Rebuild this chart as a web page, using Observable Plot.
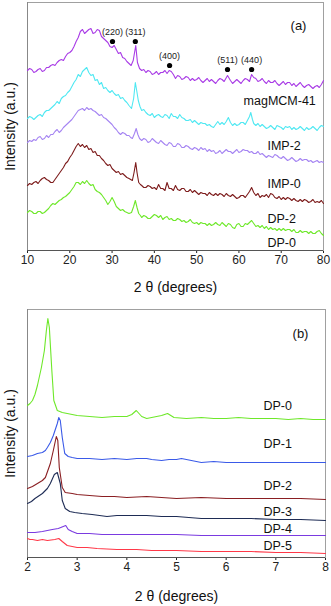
<!DOCTYPE html>
<html><head><meta charset="utf-8">
<script src="https://cdn.jsdelivr.net/npm/d3@7"></script>
<script src="https://cdn.jsdelivr.net/npm/@observablehq/plot@0.6"></script>
<style>
html,body{margin:0;padding:0;background:#fff;}
#chart{width:331px;}
#chart svg{display:block;overflow:visible;}
</style></head><body><div id="chart"></div>
<script>
// ---------- Panel (a): wide-angle XRD, [2θ, intensity a.u.] ----------
const seriesA = ["magMCM-41", "IMP-2", "IMP-0", "DP-2", "DP-0"];
const colorsA = ["#a93ce6", "#4fe8f2", "#a584f2", "#7d1c1c", "#6ee82a"];
const magMCM41 = [[10,180],[10.5,182],[11,181],[11.5,178],[12,179],[12.5,181],[13,182],[13.5,179],[14,180],[14.5,183],[15,183],[15.5,185],[16,186],[16.5,185],[17,188],[17.5,190],[18,191],[18.5,190],[19,194],[19.5,197],[20,198],[20.5,200],[21,204],[21.5,209],[22,213],[22.5,219],[23,221],[23.5,217],[24,219],[24.5,221],[25,222],[25.5,217],[26,218],[26.5,221],[27,220],[27.5,214],[28,212],[28.5,210],[29,208],[29.5,204],[30,203],[30.5,205],[31,201],[31.5,197],[32,198],[32.5,193],[33,192],[33.5,189],[34,187],[34.5,185],[35,190],[35.6,205],[36,188],[36.5,182],[37,180],[37.5,181],[38,178],[38.5,180],[39,179],[39.5,176],[40,177],[40.5,179],[41,176],[41.5,178],[42,178],[42.5,180],[43,177],[43.5,180],[44,179],[44.5,176],[45,172],[45.5,175],[46,174],[46.5,171],[47,172],[47.5,174],[48,173],[48.5,170],[49,172],[49.5,170],[50,171],[50.5,173],[51,170],[51.5,168],[52,170],[52.5,172],[53,169],[53.5,171],[54,169],[54.5,167],[55,170],[55.5,172],[56,171],[56.5,169],[57.3,175],[58,170],[58.5,167],[59,169],[59.5,171],[60,169],[60.5,167],[61,170],[61.5,172],[62,171],[62.5,169],[63,176],[63.5,173],[64,172],[64.5,169],[65,170],[65.5,172],[66,169],[66.5,167],[67,170],[67.5,168],[68,168],[68.5,170],[69,167],[69.5,165],[70,167],[70.5,169],[71,166],[71.5,168],[72,168],[72.5,165],[73,167],[73.5,164],[74,166],[74.5,168],[75,165],[75.5,163],[76,165],[76.5,166],[77,164],[77.5,162],[78,164],[78.5,165],[79,163],[79.5,166],[80,170]];
const imp2 = [[10,132],[10.5,134],[11,133],[11.5,131],[12,133],[12.5,135],[13,136],[13.5,134],[14,138],[14.5,140],[15,140],[15.5,142],[16,144],[16.5,146],[17,149],[17.5,147],[18,152],[18.5,154],[19,155],[19.5,158],[20,160],[20.5,164],[21,168],[21.5,171],[22,176],[22.5,174],[23,179],[23.5,181],[24,183],[24.5,178],[25,175],[25.5,176],[26,170],[26.5,171],[27,166],[27.5,168],[28,162],[28.5,163],[29,160],[29.5,158],[30,160],[30.5,157],[31,155],[31.5,156],[32,152],[32.5,153],[33,150],[33.5,148],[34,145],[34.6,142],[35.1,152],[35.5,168],[35.9,158],[36.2,150],[36.6,144],[37,140],[37.5,141],[38,138],[38.5,136],[39,135],[39.5,137],[40,133],[40.5,135],[41,136],[41.5,134],[42,133],[42.5,136],[43,135],[43.5,132],[44,137],[44.5,134],[45,134],[45.5,132],[46,136],[46.5,133],[47,132],[47.5,130],[48,130],[48.5,131],[49,128],[49.5,130],[50,128],[50.5,126],[51,128],[51.5,127],[52,127],[52.5,125],[53,126],[53.5,124],[54,123],[54.5,126],[55,129],[55.5,126],[56,128],[56.5,126],[57,129],[57.5,133],[58,128],[58.5,125],[59,127],[59.5,125],[60,126],[60.5,128],[61,128],[61.5,126],[62,130],[62.5,134],[62.8,138],[63.2,131],[63.5,127],[64,125],[64.5,127],[65,124],[65.5,126],[66,124],[66.5,122],[67,123],[67.5,125],[68,123],[68.5,121],[69,125],[69.5,124],[70,123],[70.5,121],[71,124],[71.5,123],[72,124],[72.5,121],[73,123],[73.5,121],[74,122],[74.5,124],[75,122],[75.5,120],[76,123],[76.5,121],[77,122],[77.5,124],[78,122],[78.5,120],[79,123],[79.5,125],[80,124]];
const imp0 = [[10,108],[10.5,110],[11,109],[11.5,111],[12,110],[12.5,113],[13,114],[13.5,111],[14,112],[14.5,115],[15,113],[15.5,116],[16,116],[16.5,119],[17,121],[17.5,118],[18,120],[18.5,123],[19,125],[19.5,127],[20,129],[20.5,131],[21,134],[21.5,137],[22,140],[22.5,141],[23,142],[23.5,140],[24,143],[24.5,141],[25,142],[25.5,140],[26,139],[26.5,137],[27,135],[27.5,136],[28,133],[28.5,132],[29,130],[29.5,128],[30,126],[30.5,123],[31,121],[31.5,118],[32,116],[32.5,118],[33,117],[33.5,115],[34,115],[34.4,113],[34.8,112],[35.3,117],[35.7,122],[36.1,116],[36.5,112],[37,110],[37.5,112],[38,111],[38.5,108],[39,109],[39.5,112],[40,110],[40.5,108],[41,107],[41.5,110],[42,108],[42.5,106],[43,105],[43.5,108],[44,107],[44.5,104],[45,104],[45.5,107],[46,106],[46.5,103],[47,103],[47.5,105],[48,104],[48.5,102],[49,101],[49.5,103],[50,102],[50.5,100],[51,103],[51.5,101],[52,102],[52.5,99],[53,101],[53.5,99],[54,100],[54.5,97],[55,98],[55.5,100],[56,97],[56.5,99],[57,101],[57.5,99],[58,99],[58.5,97],[59,99],[59.5,101],[60,98],[60.5,99],[61,101],[61.5,100],[62,100],[62.5,98],[63,99],[63.5,97],[64,97],[64.5,99],[65,96],[65.5,97],[66,95],[66.5,93],[67,95],[67.5,94],[68,93],[68.5,96],[69,95],[69.5,93],[70,92],[70.5,94],[71,92],[71.5,90],[72,91],[72.5,93],[73,91],[73.5,89],[74,90],[74.5,92],[75,90],[75.5,91],[76,91],[76.5,89],[77,90],[77.5,88],[78,89],[78.5,90],[79,88],[79.5,89],[80,88]];
const dp2A = [[10,65],[10.5,67],[11,66],[11.5,68],[12,69],[12.5,67],[13,70],[13.5,72],[14,73],[14.5,71],[15,70],[15.5,68],[16,68],[16.5,71],[17,74],[17.5,77],[18,80],[18.5,83],[19,87],[19.5,89],[20,93],[20.5,96],[21,100],[21.5,104],[22,107],[22.5,104],[23,106],[23.5,103],[24,105],[24.5,101],[25,102],[25.5,98],[26,99],[26.5,95],[27,95],[27.5,92],[28,90],[28.5,87],[29,85],[29.5,86],[30,82],[30.5,80],[31,78],[31.5,79],[32,76],[32.5,77],[33,75],[33.5,73],[34,72],[34.8,70],[35.2,78],[35.6,88],[35.9,78],[36.3,68],[36.7,66],[37,65],[37.5,63],[38,63],[38.5,65],[39,64],[39.5,62],[40,63],[40.5,61],[41,66],[41.5,62],[42,62],[42.5,60],[43,68],[43.5,62],[44,62],[44.5,60],[45,65],[45.5,61],[46,60],[46.5,62],[47,62],[47.5,59],[48,59],[48.5,61],[49,58],[49.5,60],[50,58],[50.5,56],[51,58],[51.5,57],[52,57],[52.5,55],[53,58],[53.5,56],[54,55],[54.5,57],[55,55],[55.5,57],[56,56],[56.5,54],[57,57],[57.5,55],[58,54],[58.5,56],[59,54],[59.5,52],[60,53],[60.5,55],[61,55],[61.5,53],[62,56],[62.5,59],[63,63],[63.5,58],[64,55],[64.5,57],[65,53],[65.5,55],[66,54],[66.5,56],[67,53],[67.5,57],[68,56],[68.5,53],[69,52],[69.5,54],[70,51],[70.5,53],[71,51],[71.5,53],[72,52],[72.5,50],[73,52],[73.5,50],[74,49],[74.5,51],[75,49],[75.5,51],[76,50],[76.5,48],[77,49],[77.5,51],[78,48],[78.5,49],[79,48],[79.5,50],[80,47]];
const dp0A = [[10,38],[10.5,40],[11,39],[11.5,37],[12,37],[12.5,39],[13,39],[13.5,37],[14,38],[14.5,40],[15,42],[15.5,45],[16,47],[16.5,46],[17,48],[17.5,50],[18,51],[18.5,53],[19,54],[19.5,56],[20,58],[20.5,61],[21,64],[21.5,68],[22,68],[22.5,66],[23,69],[23.5,67],[24,70],[24.5,67],[25,65],[25.5,66],[26,61],[26.5,59],[27,58],[27.5,56],[28,53],[28.5,50],[29,46],[29.5,49],[30,53],[30.5,49],[31,44],[31.5,42],[32,40],[32.5,41],[33,39],[33.5,38],[34,37],[34.6,38],[35.1,44],[35.5,50],[35.9,43],[36.3,37],[36.7,35],[37,33],[37.5,35],[38,34],[38.5,32],[39,32],[39.5,34],[40,36],[40.5,35],[41,33],[41.5,35],[42,31],[42.5,33],[43,34],[43.5,31],[44,32],[44.5,30],[45,30],[45.5,32],[46,31],[46.5,29],[47,30],[47.5,28],[48,29],[48.5,31],[49,28],[49.5,27],[50,28],[50.5,26],[51,28],[51.5,27],[52,27],[52.5,25],[53,27],[53.5,25],[54,26],[54.5,28],[55,26],[55.5,25],[56,28],[56.5,26],[57,24],[57.5,27],[58,26],[58.5,23],[59,22],[59.5,26],[60,27],[60.5,24],[61,24],[61.5,27],[62,26],[62.5,28],[63,30],[63.5,27],[64,24],[64.5,25],[65,23],[65.5,25],[66,22],[66.5,24],[67,21],[67.5,23],[68,21],[68.5,22],[69,20],[69.5,22],[70,20],[70.5,22],[71,20],[71.5,21],[72,21],[72.5,19],[73,21],[73.5,18],[74,18],[74.5,20],[75,18],[75.5,19],[76,19],[76.5,17],[77,19],[77.5,17],[78,17],[78.5,19],[79,20],[79.5,17],[80,15]];
const peakHKL = ["(220)", "(311)", "(400)", "(511)", "(440)"];
const peak2Theta = [30.1, 35.5, 43.6, 57.3, 63.0];
const peakMarkI = [209, 209, 185, 181, 181];
const xTicksA = [10, 20, 30, 40, 50, 60, 70, 80];
const labelA2Theta = [61.1, 66.75, 66.75, 66.75, 66.75];
const labelAI = [150, 105, 67, 32, 8];

// ---------- Panel (b): low-angle XRD, [2θ, intensity a.u.] ----------
const seriesB = ["DP-0", "DP-1", "DP-2", "DP-3", "DP-4", "DP-5"];
const colorsB = ["#6ee82a", "#3a5ae8", "#8a1e22", "#1e2c55", "#7a3ae0", "#ff3848"];
const dp0B = [[2.0,152],[2.05,154],[2.1,157],[2.15,163],[2.2,172],[2.28,190],[2.34,207],[2.38,227],[2.41,239],[2.44,230],[2.49,187],[2.53,157],[2.6,147],[2.7,145],[2.8,144],[2.9,143],[3.0,142],[3.25,141],[3.5,140],[3.75,141],[4.0,141],[4.1,143],[4.19,147],[4.3,141],[4.4,139],[4.5,140],[4.7,142],[4.82,144],[4.95,140],[5.2,139],[5.5,140],[5.75,139],[6,139],[6.25,140],[6.5,139],[6.75,139],[7,139],[7.25,138],[7.5,139],[7.75,138],[8,138]];
const dp1B = [[2.0,101],[2.1,102],[2.2,104],[2.3,105],[2.36,107],[2.4,110],[2.46,115],[2.52,122],[2.6,134],[2.63,140],[2.66,137],[2.7,120],[2.75,104],[2.82,101],[2.9,100],[3.0,99],[3.25,99],[3.5,98],[3.75,99],[4.0,98],[4.2,99],[4.4,99],[4.5,98],[4.7,97],[4.85,98],[5.0,98],[5.1,99],[5.3,97],[5.5,95],[5.75,96],[6,95],[6.5,95],[7,95],[7.5,95],[8,95]];
const dp2B = [[2.0,69],[2.1,71],[2.2,74],[2.3,77],[2.36,80],[2.46,94],[2.52,107],[2.58,121],[2.61,117],[2.64,90],[2.7,70],[2.76,65],[2.9,64],[3.0,63],[3.25,62],[3.5,61],[3.75,61],[4.0,60],[4.4,61],[4.7,60],[5,59],[5.5,60],[6,59],[6.5,59],[7,59],[7.5,59],[8,58]];
const dp3B = [[2.0,54],[2.08,56],[2.15,59],[2.3,64],[2.4,69],[2.46,74],[2.54,83],[2.6,85],[2.66,74],[2.7,57],[2.76,49],[2.85,46],[2.95,45],[3.1,44],[3.3,43],[3.6,41],[3.8,42],[4,42],[4.4,42],[4.7,41],[5,41],[5.25,40],[5.5,39],[6,39],[6.5,39],[7,38],[7.5,38],[8,37]];
const dp4B = [[2.0,25],[2.15,25],[2.3,26],[2.5,28],[2.62,29],[2.72,31],[2.77,32],[2.82,28],[2.9,26],[3.0,24],[3.25,24],[3.5,23],[4,23],[4.5,23],[5,23],[5.5,22],[6,22],[6.5,22],[7,22],[7.5,22],[8,22]];
const dp5B = [[2.0,19],[2.05,18],[2.1,18],[2.2,17],[2.3,18],[2.4,17],[2.55,18],[2.63,19],[2.7,16],[2.8,12],[2.9,11],[3.0,10],[3.2,10],[3.4,9],[3.8,8],[4.2,8],[4.5,7],[5,7],[5.5,6],[6,6],[6.5,6],[7,5],[7.5,5],[8,4]];
const xTicksB = [2, 3, 4, 5, 6, 7, 8];
const labelB2Theta = [6.75, 6.75, 6.75, 6.75, 6.75, 6.75];
const labelBI = [152, 114, 72, 46, 29, 12];

const FONT = "'Liberation Sans', Arial, Helvetica, sans-serif";
const toRows = (names, arrs) => names.flatMap((s, i) => arrs[i].map(([x, y]) => ({series: s, x, y})));

const rowsA = toRows(seriesA, [magMCM41, imp2, imp0, dp2A, dp0A]);
const peaks = peakHKL.map((t, i) => ({t, x: peak2Theta[i], y: peakMarkI[i]}));
const labelsA = seriesA.map((s, i) => ({s, x: labelA2Theta[i], y: labelAI[i]}));

const plotA = Plot.plot({
  width: 331, height: 300,
  marginLeft: 27, marginRight: 8, marginTop: 2, marginBottom: 50,
  style: {fontFamily: FONT, fontSize: "12px", color: "#222", background: "#fff"},
  x: {domain: [10, 80], ticks: xTicksA, tickFormat: d => String(d), tickSize: 3, tickPadding: 2, label: null},
  y: {domain: [0, 248], axis: null},
  color: {domain: seriesA, range: colorsA},
  marks: [
    Plot.frame({stroke: "#a0a0a0"}),
    Plot.ruleY([0], {stroke: "#555"}),
    Plot.ruleX([10], {stroke: "#888"}),
    Plot.line(rowsA, {x: "x", y: "y", z: "series", stroke: "series", strokeWidth: 1.1}),
    Plot.dot(peaks, {x: "x", y: "y", r: 2.6, fill: "#000", stroke: null}),
    Plot.text(peaks, {x: "x", y: "y", text: "t", dy: -9.5, fontSize: 9, fill: "#222"}),
    Plot.text(labelsA, {x: "x", y: "y", text: "s", textAnchor: "start", fontSize: 12.5, fill: "#111"}),
    Plot.text(["(a)"], {frameAnchor: "top-right", dx: -25, dy: 23, textAnchor: "middle", lineAnchor: "middle", fontSize: 13, fill: "#111"}),
    Plot.text(["2 θ (degrees)"], {frameAnchor: "bottom", dy: 37, textAnchor: "middle", lineAnchor: "middle", fontSize: 14, fill: "#111"}),
    Plot.text(["Intensity (a.u.)"], {frameAnchor: "left", rotate: -90, dx: -17, textAnchor: "middle", lineAnchor: "middle", fontSize: 14, fill: "#111"})
  ]
});

const rowsB = toRows(seriesB, [dp0B, dp1B, dp2B, dp3B, dp4B, dp5B]);
const labelsB = seriesB.map((s, i) => ({s, x: labelB2Theta[i], y: labelBI[i]}));

const plotB = Plot.plot({
  width: 331, height: 306,
  marginLeft: 27, marginRight: 6, marginTop: 9, marginBottom: 49,
  style: {fontFamily: FONT, fontSize: "12px", color: "#222", background: "#fff"},
  x: {domain: [2, 8], ticks: xTicksB, tickFormat: d => String(d), tickSize: 3, tickPadding: 2, label: null},
  y: {domain: [0, 248], axis: null},
  color: {domain: seriesB, range: colorsB},
  marks: [
    Plot.frame({stroke: "#a0a0a0"}),
    Plot.ruleY([0], {stroke: "#555"}),
    Plot.ruleX([2], {stroke: "#888"}),
    Plot.line(rowsB, {x: "x", y: "y", z: "series", stroke: "series", strokeWidth: 1.1}),
    Plot.text(labelsB, {x: "x", y: "y", text: "s", textAnchor: "start", fontSize: 12.5, fill: "#111"}),
    Plot.text(["(b)"], {frameAnchor: "top-right", dx: -25, dy: 24, textAnchor: "middle", lineAnchor: "middle", fontSize: 13, fill: "#111"}),
    Plot.text(["2 θ (degrees)"], {frameAnchor: "bottom", dy: 39, textAnchor: "middle", lineAnchor: "middle", fontSize: 14, fill: "#111"}),
    Plot.text(["Intensity (a.u.)"], {frameAnchor: "left", rotate: -90, dx: -17, textAnchor: "middle", lineAnchor: "middle", fontSize: 14, fill: "#111"})
  ]
});

const root = document.getElementById("chart");
root.appendChild(plotA);
root.appendChild(plotB);
</script></body></html>
